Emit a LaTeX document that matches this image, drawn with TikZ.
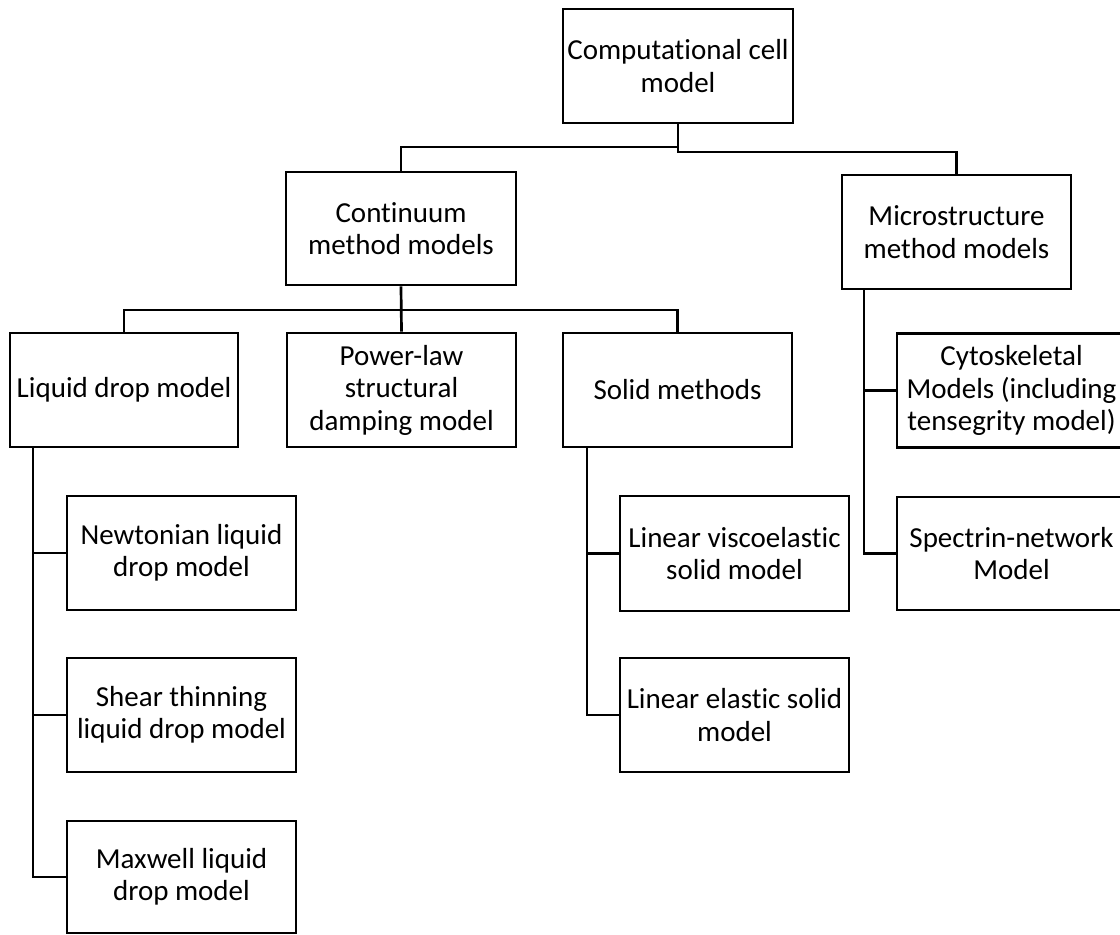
\documentclass[tikz,border=0pt]{standalone}
\usepackage{fontspec}
\setmainfont{Carlito}[RawFeature={-liga;-clig;-calt;-dlig;-hlig}]
\begin{document}
\begin{tikzpicture}[x=1pt,y=-1pt,
  line width=2.7pt, line join=miter,
  box/.style={draw, line width=2.7pt, inner sep=0pt, align=center,
    minimum width=229pt, minimum height=114pt,
    font=\fontsize{29}{32.5}\selectfont},
  link/.style={draw, line width=2.7pt}]
\useasboundingbox (0,0) rectangle (1120,935);

% root
\node[box, minimum width=230pt] (root) at (678,66) {Computational cell\\model};

% second level
\node[box, minimum width=230pt, minimum height=113pt] (cont) at (401,228.5) {Continuum\\method models};
\node[box] (micro) at (956.5,232) {Microstructure\\method models};

% third level
\node[box, minimum width=228pt] (liquid) at (124,390) {Liquid drop model};
\node[box] (power) at (401.5,390) {Power-law\\structural\\damping model};
\node[box] (solid) at (677.5,390) {Solid methods};
\node[box] (cyto) at (1011.5,390.5) {Cytoskeletal\\Models (including\\tensegrity model)};
\node[box, minimum height=113pt] (spectrin) at (1011.5,553.5) {Spectrin-network\\Model};

% liquid drop sub-models
\node[box] (newton) at (181.5,553) {Newtonian liquid\\drop model};
\node[box] (shear) at (181.5,715) {Shear thinning\\liquid drop model};
\node[box, minimum height=112pt] (maxwell) at (181.5,877) {Maxwell liquid\\drop model};

% solid sub-models
\node[box, minimum height=115pt] (visco) at (734.5,553.5) {Linear viscoelastic\\solid model};
\node[box] (elastic) at (734.5,715) {Linear elastic solid\\model};

% branch points
\coordinate (rootbarL) at (678,147);
\coordinate (rootbarR) at (678,152);
\coordinate (contbar) at (401,310);
\coordinate (lx) at (33,0);
\coordinate (sx) at (587,0);
\coordinate (mx) at (864,0);

% root to second level
\draw[link] (root.south) -- (rootbarR) -| (micro.north);
\draw[link] (rootbarL) -| (cont.north);

% continuum to third level
\draw[link] (cont.south) -- (power.north);
\draw[link] (liquid.north) |- (contbar) -| (solid.north);

% liquid drop tree
\draw[link] (liquid.south -| lx) -- (lx |- maxwell.west) -- (maxwell.west);
\draw[link] (lx |- newton.west) -- (newton.west);
\draw[link] (lx |- shear.west) -- (shear.west);

% solid tree
\draw[link] (solid.south -| sx) -- (sx |- elastic.west) -- (elastic.west);
\draw[link] (sx |- visco.west) -- (visco.west);

% microstructure tree
\draw[link] (micro.south -| mx) -- (mx |- spectrin.west) -- (spectrin.west);
\draw[link] (mx |- cyto.west) -- (cyto.west);
\end{tikzpicture}
\end{document}
